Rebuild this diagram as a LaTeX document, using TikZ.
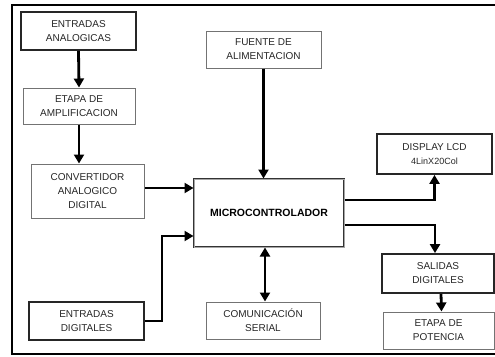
\documentclass[tikz,border=0pt]{standalone}
\usepackage{fontspec}
\setmainfont{Liberation Sans}
\usetikzlibrary{arrows.meta}

\begin{document}
\begin{tikzpicture}[x=1pt, y=-1pt,
    bloque/.style={draw=black!55, line width=1pt, align=center, inner sep=0pt,
        text=black!85, font=\fontsize{10}{14}\selectfont},
    bloquegrueso/.style={bloque, draw=black!85, line width=1.8pt},
    flecha/.style={line width=2.8pt, -{Triangle[length=9pt,width=10pt]}},
    flechados/.style={line width=2.8pt, {Triangle[length=9pt,width=10pt]}-{Triangle[length=9pt,width=10pt]}}]
    \useasboundingbox (0,0) rectangle (495,356);
    % marco
    \draw[line width=1.5pt] (497,5) -- (12,5) -- (12,354) -- (497,354);

    % bloques de entrada
    \node[bloquegrueso, minimum width=115pt, minimum height=38pt] (entana) at (78.5,31) {ENTRADAS\\ANALOGICAS};
    \node[bloque, minimum width=112pt, minimum height=36pt] (amplif) at (79,106) {ETAPA DE\\AMPLIFICACION};
    \node[bloque, minimum width=113pt, minimum height=54pt] (convad) at (87.5,191) {CONVERTIDOR\\ANALOGICO\\DIGITAL};
    \node[bloquegrueso, minimum width=115pt, minimum height=38pt] (entdig) at (86.5,321) {ENTRADAS\\DIGITALES};

    \node[bloque, minimum width=115pt, minimum height=37pt] (fuente) at (263.5,49.5) {FUENTE DE\\ALIMENTACION};
    \node[draw=black!80, double=black!35, double distance=0.8pt, line width=1pt, minimum width=150pt, minimum height=68pt,
        font=\fontsize{10.5}{12}\selectfont\bfseries] (micro) at (269,213) {MICROCONTROLADOR};
    \node[bloque, minimum width=114pt, minimum height=37pt] (serial) at (263,320.5) {COMUNICACIÓN\\SERIAL};

    % bloques de salida
    \node[bloquegrueso, minimum width=115pt, minimum height=40pt] (lcd) at (434.5,154) {DISPLAY LCD\\{\fontsize{9}{12}\selectfont 4LinX20Col}};
    \node[bloquegrueso, minimum width=112pt, minimum height=39pt] (saldig) at (438,273.5) {SALIDAS\\DIGITALES};
    \node[bloque, minimum width=111pt, minimum height=37pt] (potencia) at (438.5,330.5) {ETAPA DE\\POTENCIA};

    % flechas
    \draw[flecha] (entana.south) -- (amplif.north);
    \draw[flecha] (amplif.south) -- (amplif.south |- convad.north);
    \draw[flecha] ([yshift=3pt]convad.east) -- ([yshift=3pt]convad.east -| micro.west);
    \draw[flecha] (entdig.east) -- ++(17,0) |- ([yshift=-23pt]micro.west);
    \draw[flecha] (fuente.south) -- (fuente.south |- micro.north);
    \draw[flechados] ([xshift=2pt]serial.north) -- ([xshift=2pt]serial.north |- micro.south);
    \draw[flecha] ([yshift=13pt]micro.east) -| (lcd.south);
    \draw[flecha] ([yshift=-12pt]micro.east) -| ([xshift=-3pt]saldig.north);
    \draw[flecha] ([xshift=3pt]saldig.south) -- ([xshift=3pt]potencia.north);
\end{tikzpicture}
\end{document}
